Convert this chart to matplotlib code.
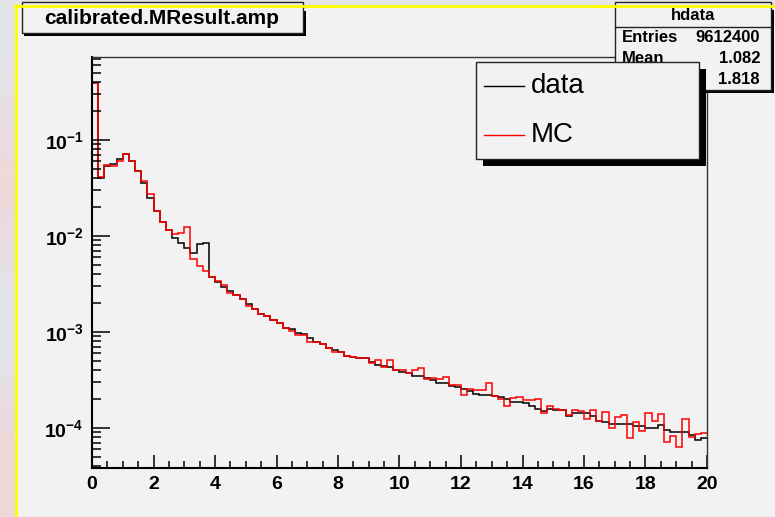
import numpy as np
import matplotlib
matplotlib.use("Agg")
import matplotlib.pyplot as plt
from matplotlib.patches import Rectangle
from matplotlib.lines import Line2D
from matplotlib.colors import to_rgb
from matplotlib.ticker import MultipleLocator, LogLocator, FuncFormatter, NullFormatter

plt.rcParams['font.family'] = ['Liberation Sans', 'DejaVu Sans']
plt.rcParams['mathtext.fontset'] = 'custom'
plt.rcParams['mathtext.rm'] = 'Liberation Sans:bold'
plt.rcParams['mathtext.bf'] = 'Liberation Sans:bold'

# histogram contents, 100 bins over [0, 20]
bin_edges = np.linspace(0, 20, 101)
data_counts = [
    0.395, 0.0398, 0.0537, 0.0558, 0.0638, 0.0721, 0.0604, 0.0475, 0.0360, 0.0251,
    0.0184, 0.0140, 0.01155, 0.00946, 0.00839, 0.00755, 0.00670, 0.00818, 0.00851, 0.00372,
    0.00330, 0.00296, 0.00269, 0.00243, 0.00219, 0.00196, 0.00174, 0.00154, 0.00147, 0.00133,
    0.00123, 0.00111, 0.00107, 0.000984, 0.000955, 0.000859, 0.000794, 0.000750, 0.000676, 0.000646,
    0.000617, 0.000569, 0.000550, 0.000537, 0.000531, 0.000484, 0.000457, 0.000447, 0.000427, 0.000398,
    0.000380, 0.000372, 0.000347, 0.000347, 0.000331, 0.000316, 0.000295, 0.000295, 0.000275, 0.000266,
    0.000257, 0.000240, 0.000224, 0.000219, 0.000219, 0.000214, 0.000209, 0.000200, 0.000186, 0.000186,
    0.000182, 0.000170, 0.000158, 0.000151, 0.000158, 0.000155, 0.000155, 0.000132, 0.000145, 0.000145,
    0.000145, 0.000132, 0.000117, 0.000115, 0.000110, 0.000110, 0.000110, 0.000110, 0.000105, 0.000105,
    0.000100, 0.000100, 0.000107, 0.0000955, 0.0000912, 0.0000912, 0.0000912, 0.0000851, 0.0000750, 0.0000794,
]
mc_counts = [
    0.395, 0.0408, 0.0545, 0.0536, 0.0604, 0.0721, 0.0604, 0.0475, 0.0377, 0.0274,
    0.0184, 0.0140, 0.01155, 0.0104, 0.01074, 0.0125, 0.00581, 0.00491, 0.00436, 0.00372,
    0.00337, 0.00309, 0.00257, 0.00243, 0.00219, 0.00187, 0.00174, 0.00154, 0.00147, 0.00133,
    0.00123, 0.00111, 0.00102, 0.000933, 0.000940, 0.000794, 0.000794, 0.000750, 0.000684, 0.000617,
    0.000617, 0.000556, 0.000550, 0.000537, 0.000537, 0.000473, 0.000513, 0.000427, 0.000513, 0.000398,
    0.000398, 0.000372, 0.000398, 0.000417, 0.000324, 0.000331, 0.000324, 0.000339, 0.000282, 0.000282,
    0.000219, 0.000257, 0.000251, 0.000251, 0.000295, 0.000214, 0.000200, 0.000170, 0.000204, 0.000209,
    0.000195, 0.000195, 0.000200, 0.000145, 0.000170, 0.000158, 0.000155, 0.000138, 0.000155, 0.000150,
    0.000123, 0.000155, 0.000117, 0.000148, 0.000100, 0.000129, 0.000135, 0.0000794, 0.000115, 0.0000933,
    0.000145, 0.000117, 0.000141, 0.0000708, 0.0000832, 0.0000631, 0.000123, 0.0000813, 0.0000871, 0.0000891,
]
series_names = ["data", "MC"]
series_colors = ["black", "red"]

hist_name = "hdata"
stat_labels = ["Entries", "Mean", "RMS"]
stat_values = ["9612400", "1.082", "1.818"]
title = "calibrated.MResult.amp"

W, H = 775, 517
fig = plt.figure(figsize=(W / 100, H / 100), dpi=100, facecolor="#e3e5e9")


def fx(x):
    return x / W


def fy(y):
    return 1 - y / H


def box(x0, y0, x1, y1, **kw):
    r = Rectangle((fx(x0), fy(y1)), fx(x1) - fx(x0), fy(y0) - fy(y1),
                  transform=fig.transFigure, **kw)
    fig.patches.append(r)
    return r


def hline(x0, x1, y, **kw):
    fig.lines.append(Line2D([fx(x0), fx(x1)], [fy(y), fy(y)], transform=fig.transFigure, **kw))


def vline(x, y0, y1, **kw):
    fig.lines.append(Line2D([fx(x), fx(x)], [fy(y0), fy(y1)], transform=fig.transFigure, **kw))


# faded desktop behind the canvas on the left edge
strip_stops = ["#e2e4e8", "#e6e2e4", "#efd9da", "#ebdadb", "#e4e5e9", "#e2e6ea", "#ecd8d9", "#eddadb"]
strip = np.array([to_rgb(c) for c in strip_stops])[:, None, :]
bg = fig.add_axes([0, 0, fx(16), 1], zorder=-3)
bg.imshow(strip, aspect="auto", interpolation="bicubic", extent=(0, 1, 0, 1))
bg.set_axis_off()

# pad background with yellow border
box(15, 5, 800, 540, facecolor="#f2f2f2", edgecolor="none", zorder=-2)
hline(15, 800, 6, color="#ffff00", lw=2.0, zorder=-1)
vline(16, 5, 540, color="#ffff00", lw=2.0, zorder=-1)

ax = fig.add_axes([fx(92), fy(468), fx(707) - fx(92), fy(57) - fy(468)])
ax.set_facecolor("#f2f2f2")
ax.set_yscale("log")
ax.set_xlim(0, 20)
ax.set_ylim(3.83e-5, 0.733)

for counts, color in zip([data_counts, mc_counts], series_colors):
    ax.stairs(counts, bin_edges, baseline=None, color=color, lw=1.1)

ax.xaxis.set_major_locator(MultipleLocator(2))
ax.xaxis.set_minor_locator(MultipleLocator(0.5))
ax.yaxis.set_major_locator(LogLocator(base=10, numticks=10))
ax.yaxis.set_minor_locator(LogLocator(base=10, subs=np.arange(2, 10), numticks=10))
ax.yaxis.set_minor_formatter(NullFormatter())
ax.yaxis.set_major_formatter(FuncFormatter(
    lambda v, p: r"$\mathbf{10^{%d}}$" % int(round(np.log10(v)))))
ax.xaxis.set_major_formatter(FuncFormatter(lambda v, p: "%d" % v))

ax.tick_params(axis="both", which="both", direction="in", top=False, right=False,
               color="black", width=1.1)
ax.tick_params(axis="x", which="major", length=9.5, pad=6, labelsize=14)
ax.tick_params(axis="x", which="minor", length=5)
ax.tick_params(axis="y", which="major", length=13, pad=6, labelsize=14)
ax.tick_params(axis="y", which="minor", length=6.5)
for lab in ax.get_xticklabels():
    lab.set_fontweight("bold")

for side in ["left", "bottom"]:
    ax.spines[side].set_linewidth(1.5)
for side in ["right", "top"]:
    ax.spines[side].set_linewidth(1.0)
    ax.spines[side].set_color("#333333")

# title box
box(24, 11, 306, 36, facecolor="black", edgecolor="none", zorder=3)
box(22, 2, 303, 33, facecolor="#f2f2f2", edgecolor="#222222", lw=1.0, zorder=4)
hline(15, 320, 6, color="#ffff00", lw=2.0, zorder=4.5)
fig.text(fx(162), fy(19), title, ha="center", va="center", fontsize=15,
         fontweight="bold", zorder=5)

# statistics box
box(617, 10, 774, 93, facecolor="black", edgecolor="none", zorder=5)
box(615, 2, 771, 90, facecolor="#f2f2f2", edgecolor="#222222", lw=1.0, zorder=5.5)
hline(600, 775, 6, color="#ffff00", lw=2.0, zorder=5.6)
hline(615, 771, 27, color="#222222", lw=1.0, zorder=5.7)
fig.text(fx(693), fy(16), hist_name, ha="center", va="center", fontsize=12,
         fontweight="bold", zorder=6)
for i, (lab, val) in enumerate(zip(stat_labels, stat_values)):
    yy = 37 + 21 * i
    fig.text(fx(622), fy(yy), lab, ha="left", va="center", fontsize=12,
             fontweight="bold", zorder=6)
    fig.text(fx(760), fy(yy), val, ha="right", va="center", fontsize=12,
             fontweight="bold", zorder=6)

# legend
box(483, 69, 706, 166, facecolor="black", edgecolor="none", zorder=7)
box(476, 62, 699, 159, facecolor="#f2f2f2", edgecolor="#222222", lw=1.0, zorder=8)
for i, (name, color) in enumerate(zip(series_names, series_colors)):
    yy = 86 + 49 * i
    hline(484, 524, yy, color=color, lw=1.0, zorder=9)
    fig.text(fx(531), fy(yy), name, ha="left", va="center", fontsize=20, zorder=9)

fig.savefig("out.png", dpi=100, facecolor=fig.get_facecolor())
